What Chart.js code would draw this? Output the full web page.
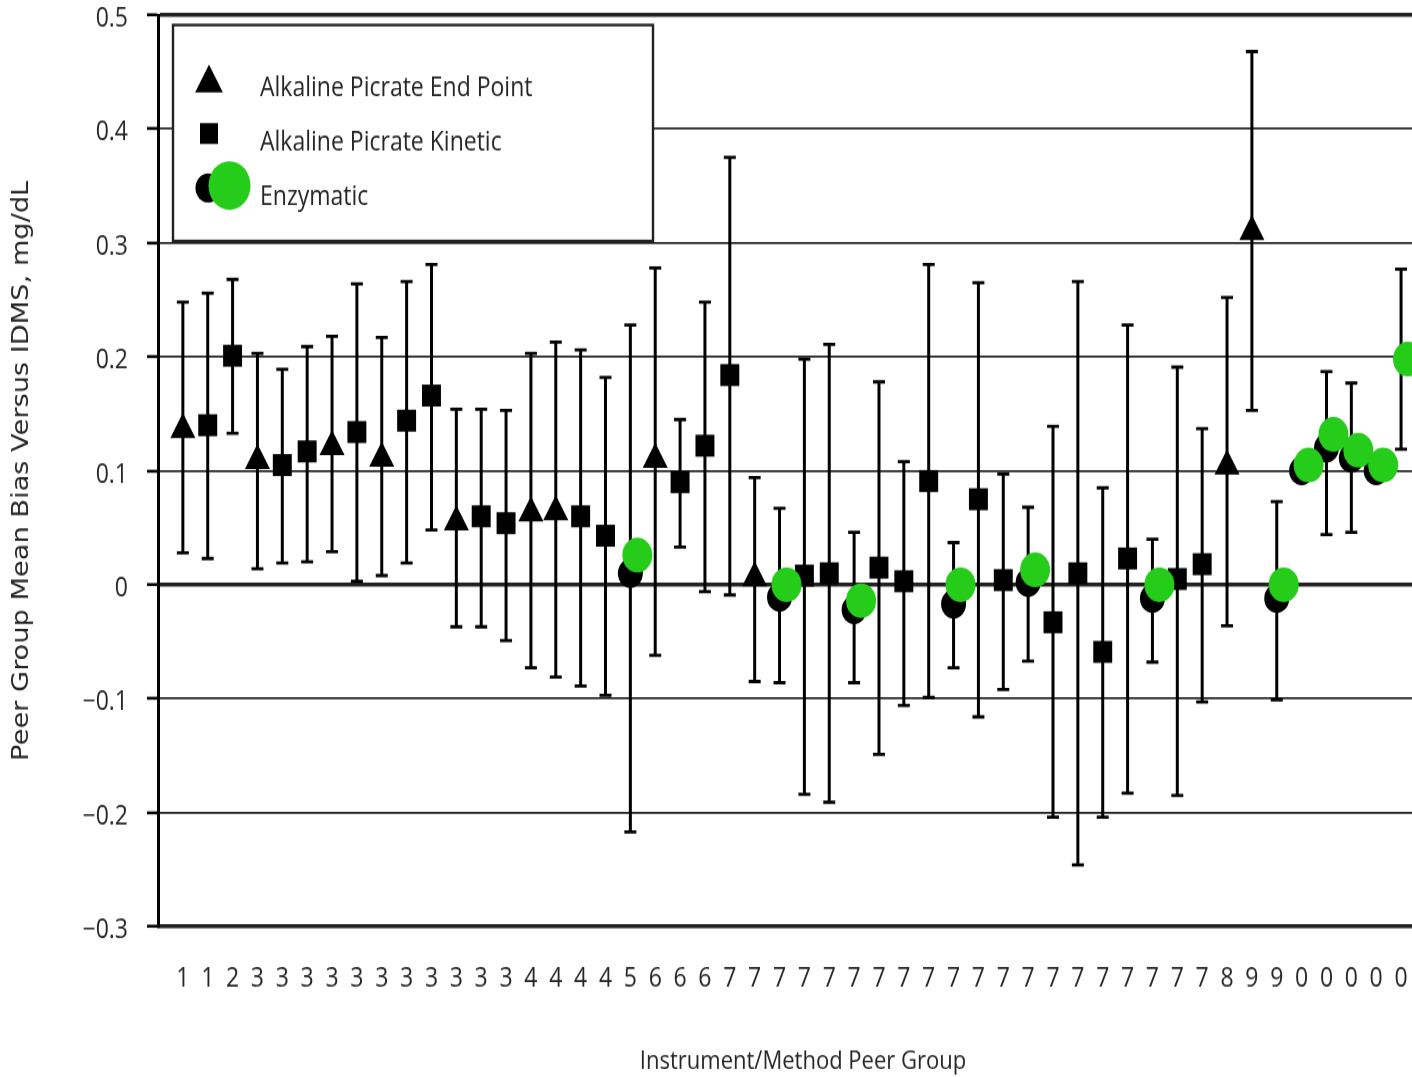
<!DOCTYPE html>
<html>
<head>
<meta charset="utf-8">
<title>Peer Group Mean Bias Versus IDMS</title>
<script src="https://cdn.jsdelivr.net/npm/chart.js@4.4.1/dist/chart.umd.min.js"></script>
<style>
  html, body { margin: 0; padding: 0; background: #fff; overflow: hidden; }
</style>
</head>
<body>
<!-- the original figure is stretched vertically, so the canvas is drawn shorter and stretched by css -->
<canvas id="graficoBias" width="1412" height="930" style="display:block;width:1412px;height:1077px"></canvas>
<script>
const groupLabels = ['1', '1', '2', '3', '3', '3', '3', '3', '3', '3',
                     '3', '3', '3', '3', '4', '4', '4', '4', '5', '6',
                     '6', '6', '7', '7', '7', '7', '7', '7', '7', '7',
                     '7', '7', '7', '7', '7', '7', '7', '7', '7', '7',
                     '7', '7', '8', '9', '9', '0', '0', '0', '0', '0'];

const seriesNames = ['Alkaline Picrate End Point', 'Alkaline Picrate Kinetic', 'Enzymatic'];
const xTitle = 'Instrument/Method Peer Group';
const yTitle = 'Peer Group Mean Bias Versus IDMS, mg/dL';

const endPoint = [0.136, null, null, 0.109, null, null, 0.121, null, 0.111, null,
                  null, 0.055, null, null, 0.063, 0.064, null, null, null, 0.110,
                  null, null, null, 0.006, null, null, null, null, null, null,
                  null, null, null, null, null, null, null, null, null, null,
                  null, null, 0.104, 0.310, null, null, null, null, null, null];

const kinetic = [null, 0.140, 0.201, null, 0.105, 0.117, null, 0.134, null, 0.144,
                 0.166, null, 0.060, 0.054, null, null, 0.060, 0.043, null, null,
                 0.090, 0.122, 0.184, null, null, 0.008, 0.010, null, 0.015, 0.003,
                 0.091, null, 0.075, 0.004, null, -0.033, 0.010, -0.059, 0.023, null,
                 0.005, 0.018, null, null, null, null, null, null, null, null];

const enzymatic = [null, null, null, null, null, null, null, null, null, null,
                   null, null, null, null, null, null, null, null, 0.010, null,
                   null, null, null, null, -0.011, null, null, -0.022, null, null,
                   null, -0.017, null, null, 0.002, null, null, null, null, -0.012,
                   null, null, null, null, -0.012, 0.100, 0.120, 0.111, 0.100, null];

// green marks painted over the enzymatic groups
const enzymaticGreen = [null, null, null, null, null, null, null, null, null, null,
                        null, null, null, null, null, null, null, null, 0.026, null,
                        null, null, null, null, 0.000, null, null, -0.014, null, null,
                        null, 0.000, null, null, 0.013, null, null, null, null, 0.000,
                        null, null, null, null, 0.000, 0.105, 0.132, 0.118, 0.105, 0.198];

const lowerLimit = [0.028, 0.023, 0.133, 0.014, 0.019, 0.020, 0.029, 0.003, 0.008, 0.019,
                    0.048, -0.037, -0.037, -0.049, -0.073, -0.081, -0.089, -0.097, -0.217, -0.062,
                    0.033, -0.006, -0.009, -0.085, -0.086, -0.184, -0.191, -0.086, -0.149, -0.106,
                    -0.099, -0.073, -0.116, -0.092, -0.067, -0.204, -0.246, -0.204, -0.183, -0.068,
                    -0.185, -0.103, -0.036, 0.153, -0.101, null, 0.044, 0.046, null, 0.119];

const upperLimit = [0.248, 0.256, 0.268, 0.203, 0.189, 0.209, 0.218, 0.264, 0.217, 0.266,
                    0.281, 0.154, 0.154, 0.153, 0.203, 0.213, 0.206, 0.182, 0.228, 0.278,
                    0.145, 0.248, 0.375, 0.094, 0.067, 0.198, 0.211, 0.046, 0.178, 0.108,
                    0.281, 0.037, 0.265, 0.097, 0.068, 0.139, 0.266, 0.085, 0.228, 0.040,
                    0.191, 0.137, 0.252, 0.468, 0.073, null, 0.187, 0.177, null, 0.277];

const GREEN = '#25cc1a';
const INK = '#262626';

document.addEventListener("DOMContentLoaded", () => {
    const ctx = document.getElementById("graficoBias").getContext("2d");

    const toPoints = (values, shift) => values
        .map((v, i) => (v === null ? null : { x: i + 1 + shift, y: v }))
        .filter(p => p !== null);

    // vertical bars with caps, drawn under the markers
    const errorBars = {
        id: 'errorBars',
        beforeDatasetsDraw(chart) {
            const { ctx, scales: { x, y } } = chart;
            ctx.save();
            ctx.strokeStyle = '#000';
            lowerLimit.forEach((lo, i) => {
                const hi = upperLimit[i];
                if (lo === null || hi === null) return;
                const px = x.getPixelForValue(i + 1);
                const yLo = y.getPixelForValue(lo);
                const yHi = y.getPixelForValue(hi);
                ctx.lineWidth = 3;
                ctx.beginPath();
                ctx.moveTo(px, yLo);
                ctx.lineTo(px, yHi);
                ctx.stroke();
                ctx.lineWidth = 2.8;
                ctx.beginPath();
                ctx.moveTo(px - 6, yLo); ctx.lineTo(px + 6, yLo);
                ctx.moveTo(px - 6, yHi); ctx.lineTo(px + 6, yHi);
                ctx.stroke();
            });
            ctx.restore();
        }
    };

    // boxed legend in the upper left corner of the plot, and the x title
    const legendBox = {
        id: 'legendBox',
        afterDraw(chart) {
            const c = chart.ctx;
            c.save();
            c.fillStyle = '#fff';
            c.fillRect(173, 21.6, 480, 186.5);
            c.strokeStyle = '#222';
            c.lineWidth = 2.4;
            c.strokeRect(173, 21.6, 480, 186.5);

            c.fillStyle = '#000';
            Chart.helpers.drawPoint(c, { pointStyle: 'triangle', radius: 16, rotation: 0, borderWidth: 0 }, 209, 71.7);
            Chart.helpers.drawPoint(c, { pointStyle: 'rect', radius: 12.7, rotation: 0, borderWidth: 0 }, 209, 115.3);
            Chart.helpers.drawPoint(c, { pointStyle: 'circle', radius: 12.5, rotation: 0, borderWidth: 0 }, 208, 162.3);
            c.fillStyle = GREEN;
            Chart.helpers.drawPoint(c, { pointStyle: 'circle', radius: 21, rotation: 0, borderWidth: 0 }, 229.5, 160.2);

            c.fillStyle = INK;
            c.font = '23px "Open Sans"';
            c.textAlign = 'left';
            c.textBaseline = 'alphabetic';
            c.fillText(seriesNames[0], 260, 82.9);
            c.fillText(seriesNames[1], 260, 129.5);
            c.fillText(seriesNames[2], 260, 177);

            // x title sits a little right of the plot centre in the original
            c.font = '22px "Open Sans"';
            c.textAlign = 'center';
            c.textBaseline = 'middle';
            c.fillText(xTitle, 803, 916.5);
            c.restore();
        }
    };

    const blackSet = (label, values, style, radius) => ({
        label: label,
        data: toPoints(values, 0),
        pointStyle: style,
        pointRadius: radius,
        backgroundColor: '#000',
        borderWidth: 0,
        order: 1
    });

    new Chart(ctx, {
        type: 'scatter',
        data: {
            datasets: [
                blackSet(seriesNames[0], endPoint, 'triangle', 14.5),
                blackSet(seriesNames[1], kinetic, 'rect', 13.4),
                blackSet(seriesNames[2], enzymatic, 'circle', 12.5),
                {
                    label: seriesNames[2] + ' (highlight)',
                    data: toPoints(enzymaticGreen, 0.28),
                    pointStyle: 'circle',
                    pointRadius: 15,
                    backgroundColor: GREEN,
                    borderWidth: 0,
                    order: 0
                }
            ]
        },
        options: {
            responsive: false,
            devicePixelRatio: 1,
            animation: false,
            events: [],
            layout: { autoPadding: false, padding: { top: 13, right: 0, bottom: 0, left: 0 } },
            plugins: {
                legend: { display: false },
                tooltip: { enabled: false }
            },
            scales: {
                x: {
                    type: 'linear',
                    min: 0,
                    max: 50.44,
                    bounds: 'data',
                    grid: { display: false },
                    border: { display: false },
                    ticks: {
                        stepSize: 1,
                        includeBounds: false,
                        autoSkip: false,
                        maxRotation: 0,
                        minRotation: 0,
                        padding: 24,
                        color: INK,
                        font: { family: 'Open Sans', size: 23 },
                        callback: (v) => (Number.isInteger(v) && v >= 1 && v <= groupLabels.length) ? groupLabels[v - 1] : ''
                    },
                    afterFit: (scale) => {
                        scale.height = 130;
                        scale.paddingLeft = 0;
                        scale.paddingRight = 0;
                    }
                },
                y: {
                    min: -0.3,
                    max: 0.5,
                    ticks: {
                        stepSize: 0.1,
                        padding: 19,
                        labelOffset: 3.5,
                        color: INK,
                        font: { family: 'Open Sans', size: 23 },
                        callback: (v) => {
                            if (Math.abs(v) < 1e-9) return '0';
                            return v.toFixed(1).replace('-', '\u2212');
                        }
                    },
                    grid: {
                        color: '#222',
                        lineWidth: (c) => {
                            const v = c.tick ? c.tick.value : 1;
                            if (Math.abs(v) < 1e-9 || Math.abs(v - 0.5) < 1e-9 || Math.abs(v + 0.3) < 1e-9) return 3.5;
                            return 1.8;
                        },
                        drawTicks: true,
                        tickLength: 11,
                        tickColor: '#000',
                        tickWidth: 2.6
                    },
                    border: { display: true, color: '#000', width: 3 },
                    title: {
                        display: true,
                        text: yTitle,
                        color: INK,
                        font: { family: 'DejaVu Sans', size: 23.5 },
                        padding: { top: 8, bottom: 0 }
                    },
                    afterFit: (scale) => {
                        scale.width = 158;
                        scale.paddingTop = 0;
                        scale.paddingBottom = 0;
                    }
                }
            }
        },
        plugins: [errorBars, legendBox]
    });
});
</script>
</body>
</html>
